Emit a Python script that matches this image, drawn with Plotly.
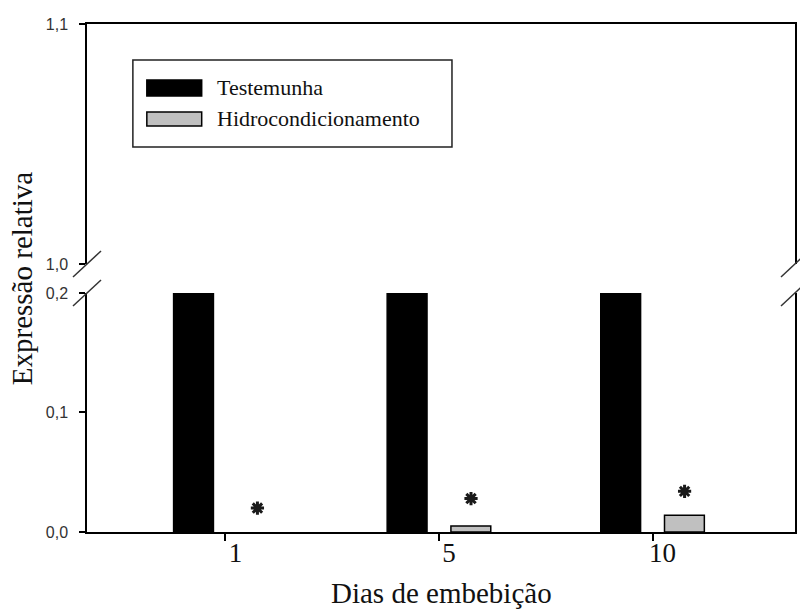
import numpy as np
import plotly.graph_objects as go

# Data: relative expression per imbibition day
days = ["1", "5", "10"]
testemunha = [1.0, 1.0, 1.0]
hidrocondicionamento = [0.0, 0.005, 0.014]
asterisk_y = [0.020, 0.028, 0.034]
series_names = ["Testemunha", "Hidrocondicionamento"]
series_colors = ["#000000", "#c0c0c0"]

# Broken y-axis segments
lower_range = [0.0, 0.2]
upper_range = [1.0, 1.1]
lower_ticks = [0.0, 0.1, 0.2]
upper_ticks = [1.0, 1.1]

pos = np.arange(len(days))
lower_dom = [0.0, 0.4705]
upper_dom = [0.5276, 1.0]

SERIF = "Liberation Serif, Times New Roman, serif"
SANS = "Liberation Sans, Arial, sans-serif"

fig = go.Figure()
values = [testemunha, hidrocondicionamento]
for xa, ya, lw in (("x", "y", 1.5), ("x2", "y2", 0)):
    for name, vals, col in zip(series_names, values, series_colors):
        # no outline on empty bars
        widths = [lw if v > 0 else 0 for v in vals]
        fig.add_trace(go.Bar(
            x=pos, y=vals, name=name, xaxis=xa, yaxis=ya,
            offsetgroup=name, showlegend=False,
            marker=dict(color=col, line=dict(color="#000000", width=widths)),
        ))

# significance marks above the treated bars
fig.add_trace(go.Scatter(
    x=pos + 0.15, y=asterisk_y, mode="markers", showlegend=False,
    marker=dict(symbol="asterisk-open", size=11, color="#1a1a1a",
                line=dict(color="#1a1a1a", width=3)),
    xaxis="x", yaxis="y",
))

axis_common = dict(showgrid=False, zeroline=False, showline=True,
                   linecolor="#000000", linewidth=1.5)

fig.update_layout(
    width=800, height=610,
    margin=dict(l=87, r=3, t=24, b=78),
    paper_bgcolor="white", plot_bgcolor="white",
    barmode="group", bargap=0.403, bargroupgap=0.375,
    separators=",.",
    xaxis=dict(
        **axis_common, domain=[0, 1], anchor="y",
        range=[-0.648, 2.667], tickvals=list(pos), ticktext=days,
        ticks="outside", ticklen=7, tickwidth=1.5, tickcolor="#000000",
        tickfont=dict(family=SERIF, size=27, color="#111111"),
        ticklabelshift=10, ticklabelstandoff=-11,
    ),
    xaxis2=dict(
        **axis_common, domain=[0, 1], anchor="y2", matches="x",
        side="top", ticks="", showticklabels=False,
    ),
    yaxis=dict(
        **axis_common, domain=lower_dom, anchor="x", mirror=True,
        range=lower_range, tickvals=lower_ticks, tickformat=".1f",
        ticks="outside", ticklen=6, tickwidth=1.5, tickcolor="#000000",
        tickfont=dict(family=SANS, size=16, color="#333333"),
        ticklabelstandoff=8,
    ),
    yaxis2=dict(
        **axis_common, domain=upper_dom, anchor="x2", mirror=True,
        range=upper_range, tickvals=upper_ticks, tickformat=".1f",
        ticks="outside", ticklen=6, tickwidth=1.5, tickcolor="#000000",
        tickfont=dict(family=SANS, size=16, color="#333333"),
        ticklabelstandoff=8,
    ),
)

# axis titles
fig.add_annotation(text="Dias de embebição", xref="paper", yref="paper",
                   x=0.5, y=-0.12, showarrow=False, xanchor="center",
                   yanchor="middle", font=dict(family=SERIF, size=29, color="#111111"))
fig.add_annotation(text="Expressão relativa", xref="paper", yref="paper",
                   x=-0.0915, y=0.5, showarrow=False, textangle=-90,
                   xanchor="center", yanchor="middle",
                   font=dict(family=SERIF, size=29, color="#111111"))

# break marks on both vertical axes
for xa in (0, 1):
    for ya in (upper_dom[0], lower_dom[1]):
        fig.add_shape(type="line", xref="paper", yref="paper",
                      xsizemode="pixel", ysizemode="pixel",
                      xanchor=xa, yanchor=ya,
                      x0=-14, x1=14, y0=-13, y1=13,
                      line=dict(color="#333333", width=1.5))

# legend box with wide swatches
fig.add_shape(type="rect", xref="paper", yref="paper",
              x0=0.0648, x1=0.5155, y0=0.758, y1=0.929,
              line=dict(color="#222222", width=1.5), fillcolor="white")
swatch_rows = [(0.8583, 0.8898), (0.7992, 0.8268)]
for (y0, y1), name, col in zip(swatch_rows, series_names, series_colors):
    fig.add_shape(type="rect", xref="paper", yref="paper",
                  x0=0.0845, x1=0.1620, y0=y0, y1=y1,
                  line=dict(color="#000000", width=1.5), fillcolor=col)
    fig.add_annotation(text=name, xref="paper", yref="paper",
                       x=0.1803, y=(y0 + y1) / 2, showarrow=False,
                       xanchor="left", yanchor="middle",
                       font=dict(family=SERIF, size=22, color="#111111"))

fig.write_html("out.html")
